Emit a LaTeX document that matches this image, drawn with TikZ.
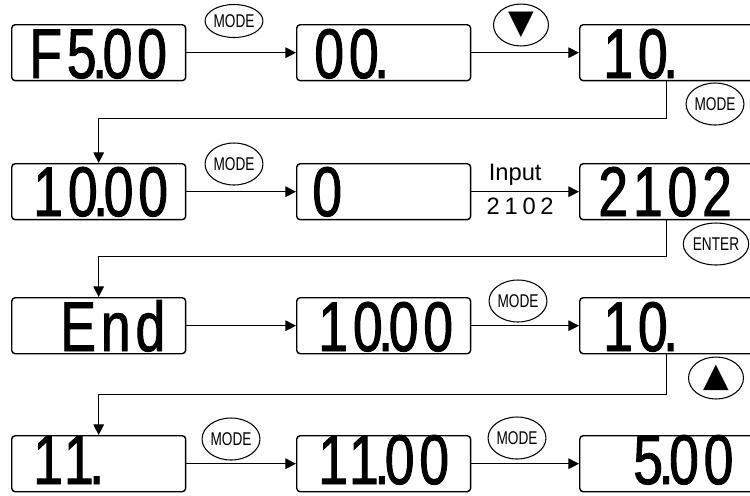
\documentclass[tikz,border=0pt]{standalone}
\usepackage{fontspec}
\setmainfont{Liberation Sans}
\newfontfamily\segfont[FakeStretch=0.76, LetterSpace=7, FakeBold=1.3]{Liberation Sans}
\newfontfamily\keyfont[FakeStretch=0.74]{Liberation Sans}
\newfontfamily\widefont[LetterSpace=20]{Liberation Sans}
\newfontfamily\symfont{DejaVu Sans}
\usetikzlibrary{arrows.meta, positioning, shapes.geometric}
\newcommand\segdot{\kern-2.5pt.\kern-2.5pt}

\begin{document}
\begin{tikzpicture}[x=0.02cm, y=-0.02cm, >={Triangle[length=6pt, width=6pt]},
  lcd/.style  = {draw, line width=0.8pt, rounded corners=2pt, anchor=north west,
                 minimum width=3.48cm, minimum height=1.12cm, inner sep=0pt},
  seg/.style  = {font=\segfont\fontsize{40}{40}\selectfont,
                 anchor=base west, inner sep=0pt},
  key/.style  = {ellipse, draw, line width=0.6pt, inner sep=0pt,
                 minimum width=1.1cm, minimum height=0.84cm,
                 font=\keyfont\fontsize{10.5}{11}\selectfont},
  arw/.style  = {key, font=\symfont\fontsize{19}{19}\selectfont},
  link/.style = {line width=0.6pt}
]
\clip (0,0) rectangle (750,495);

%% --- Displays ---
\node[lcd] (r1a) at (11,24)  {};
\node[lcd] (r1b) at (296,24) {};
\node[lcd] (r1c) at (579,24) {};
\node[lcd] (r2a) at (11,163)  {};
\node[lcd] (r2b) at (296,163) {};
\node[lcd] (r2c) at (579,163) {};
\node[lcd] (r3a) at (11,297)  {};
\node[lcd] (r3b) at (296,297) {};
\node[lcd] (r3c) at (579,297) {};
\node[lcd] (r4a) at (11,435)  {};
\node[lcd] (r4b) at (296,435) {};
\node[lcd] (r4c) at (579,435) {};

%% --- Readouts ---
\node[seg] (t1a) at (29,78)   {F5\segdot00};
\node[seg] (t1b) at (314,78)  {00\segdot};
\node[seg] (t1c) at (603,78)  {10\segdot};
\node[seg] (t2a) at (33,216)  {10\segdot00};
\node[seg] (t2b) at (312,216) {0};
\node[seg] (t2c) at (598,216) {2102};
\node[seg] (t3a) at (60,351)  {End};
\node[seg] (t3b) at (318,351) {10\segdot00};
\node[seg] (t3c) at (603,351) {10\segdot};
\node[seg] (t4a) at (33,484)  {11\segdot};
\node[seg] (t4b) at (318,484) {11\segdot00};
\node[seg] (t4c) at (633,484) {5\segdot00};

%% --- Keys ---
\node[key, minimum height=0.66cm] (k1) at (234,21) {MODE};
\node[arw] (k2) at (521,25)  {▼};
\node[key] (k3) at (715,104) {MODE};
\node[key] (k4) at (234,164) {MODE};
\node[key] (k5) at (716,244) {ENTER};
\node[key] (k6) at (518,301) {MODE};
\node[arw] (k7) at (716,378) {▲};
\node[key] (k8) at (231,439) {MODE};
\node[key] (k9) at (517,438) {MODE};

%% --- Row links ---
\draw[link, ->] (r1a) -- (r1b);
\draw[link, ->] (r1b) -- (r1c);
\draw[link, ->] (r2a) -- (r2b);
\draw[link, ->] (r2b) -- node[above, xshift=-0.2cm, font=\fontsize{13.5}{14}\selectfont] (lin) {Input}
                         node[below, xshift=-0.1cm, font=\widefont\fontsize{13.5}{14}\selectfont] (lnum) {2102} (r2c);
\draw[link, ->] (r3a) -- (r3b);
\draw[link, ->] (r3b) -- (r3c);
\draw[link, ->] (r4a) -- (r4b);
\draw[link, ->] (r4b) -- (r4c);

%% --- Wrap to next row ---
\draw[link, ->] (r1c.south) -- ++(0,37) -| (r2a.north);
\draw[link, ->] (r2c.south) -- ++(0,36) -| (r3a.north);
\draw[link, ->] (r3c.south) -- ++(0,40) -| (r4a.north);
\end{tikzpicture}
\end{document}
